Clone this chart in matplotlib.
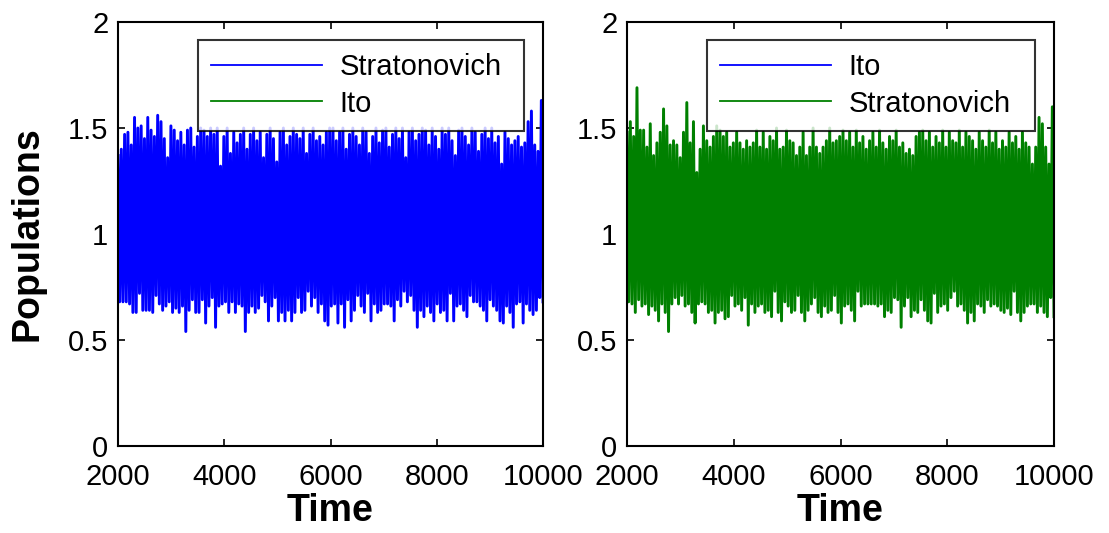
import numpy as np
import matplotlib
matplotlib.use("Agg")
from matplotlib import pyplot as plt

plt.rcParams['font.family'] = ['Liberation Sans', 'DejaVu Sans']
plt.rcParams['path.simplify'] = False

# time span of the runs
t_start, t_end = 2000, 10000

# left panel: Stratonovich run, peaks (top edge) and troughs (bottom edge)
strat_left_peaks = [
    1.37, 1.40, 1.47, 1.48, 1.42, 1.55, 1.50, 1.51, 1.45, 1.55, 1.49, 1.46, 1.56, 1.53, 1.45, 1.36,
    1.51, 1.49, 1.44, 1.48, 1.42, 1.49, 1.50, 1.41, 1.46, 1.50, 1.49, 1.46, 1.50, 1.47, 1.50, 1.32,
    1.46, 1.50, 1.38, 1.48, 1.43, 1.47, 1.50, 1.40, 1.47, 1.50, 1.44, 1.48, 1.36, 1.47, 1.50, 1.45,
    1.34, 1.48, 1.50, 1.42, 1.46, 1.50, 1.47, 1.45, 1.50, 1.38, 1.47, 1.50, 1.44, 1.46, 1.42, 1.48,
    1.50, 1.50, 1.44, 1.48, 1.50, 1.40, 1.47, 1.50, 1.46, 1.42, 1.50, 1.48, 1.38, 1.46, 1.50, 1.43,
    1.49, 1.50, 1.41, 1.47, 1.50, 1.45, 1.50, 1.36, 1.48, 1.50, 1.44, 1.47, 1.50, 1.49, 1.42, 1.50,
    1.46, 1.40, 1.50, 1.47, 1.50, 1.44, 1.37, 1.49, 1.50, 1.46, 1.42, 1.50, 1.48, 1.39, 1.47, 1.50,
    1.45, 1.50, 1.43, 1.46, 1.33, 1.48, 1.45, 1.42, 1.44, 1.46, 1.41, 1.43, 1.53, 1.58, 1.42, 1.39,
    1.63]
strat_left_troughs = [
    0.68, 0.68, 0.68, 0.67, 0.63, 0.63, 0.72, 0.64, 0.64, 0.64, 0.63, 0.71, 0.67, 0.64, 0.66, 0.68,
    0.63, 0.65, 0.63, 0.66, 0.54, 0.64, 0.69, 0.63, 0.63, 0.69, 0.58, 0.66, 0.70, 0.56, 0.66, 0.67,
    0.68, 0.63, 0.68, 0.63, 0.67, 0.66, 0.54, 0.63, 0.66, 0.63, 0.65, 0.71, 0.68, 0.59, 0.66, 0.70,
    0.59, 0.63, 0.59, 0.64, 0.59, 0.63, 0.70, 0.63, 0.64, 0.73, 0.66, 0.70, 0.63, 0.67, 0.59, 0.57,
    0.66, 0.67, 0.58, 0.67, 0.56, 0.69, 0.59, 0.64, 0.71, 0.66, 0.63, 0.72, 0.59, 0.67, 0.63, 0.64,
    0.67, 0.67, 0.66, 0.59, 0.69, 0.66, 0.73, 0.68, 0.71, 0.64, 0.56, 0.64, 0.61, 0.66, 0.63, 0.59,
    0.67, 0.63, 0.64, 0.59, 0.72, 0.59, 0.66, 0.67, 0.64, 0.61, 0.71, 0.68, 0.68, 0.66, 0.64, 0.59,
    0.69, 0.66, 0.64, 0.59, 0.58, 0.66, 0.63, 0.56, 0.67, 0.68, 0.58, 0.67, 0.64, 0.62, 0.64, 0.70,
    0.68]

# right panel: Stratonovich run
strat_right_peaks = [
    1.48, 1.53, 1.46, 1.69, 1.49, 1.49, 1.41, 1.52, 1.37, 1.43, 1.48, 1.59, 1.51, 1.42, 1.44, 1.42,
    1.36, 1.48, 1.62, 1.43, 1.53, 1.29, 1.40, 1.51, 1.44, 1.41, 1.46, 1.51, 1.49, 1.46, 1.48, 1.41,
    1.43, 1.48, 1.43, 1.40, 1.44, 1.41, 1.43, 1.49, 1.41, 1.48, 1.40, 1.46, 1.44, 1.50, 1.40, 1.41,
    1.49, 1.44, 1.43, 1.37, 1.41, 1.48, 1.37, 1.41, 1.50, 1.41, 1.38, 1.41, 1.44, 1.50, 1.43, 1.44,
    1.46, 1.49, 1.44, 1.48, 1.41, 1.49, 1.43, 1.46, 1.40, 1.44, 1.48, 1.41, 1.49, 1.43, 1.40, 1.46,
    1.44, 1.49, 1.41, 1.43, 1.38, 1.40, 1.37, 1.46, 1.48, 1.49, 1.44, 1.48, 1.41, 1.46, 1.43, 1.49,
    1.41, 1.48, 1.44, 1.43, 1.49, 1.41, 1.48, 1.46, 1.44, 1.40, 1.48, 1.44, 1.41, 1.49, 1.43, 1.48,
    1.40, 1.44, 1.41, 1.48, 1.43, 1.46, 1.40, 1.48, 1.43, 1.41, 1.33, 1.41, 1.55, 1.52, 1.41, 1.33,
    1.60]
strat_right_troughs = [
    0.68, 0.67, 0.63, 0.69, 0.66, 0.67, 0.62, 0.66, 0.64, 0.59, 0.67, 0.63, 0.54, 0.67, 0.70, 0.67,
    0.71, 0.66, 0.67, 0.63, 0.58, 0.67, 0.68, 0.67, 0.63, 0.64, 0.58, 0.63, 0.64, 0.60, 0.61, 0.71,
    0.66, 0.67, 0.64, 0.70, 0.57, 0.67, 0.63, 0.66, 0.67, 0.63, 0.64, 0.61, 0.73, 0.63, 0.59, 0.68,
    0.66, 0.63, 0.64, 0.71, 0.63, 0.59, 0.64, 0.67, 0.70, 0.63, 0.61, 0.66, 0.63, 0.64, 0.71, 0.63,
    0.58, 0.66, 0.67, 0.64, 0.59, 0.73, 0.66, 0.67, 0.67, 0.67, 0.67, 0.66, 0.67, 0.61, 0.64, 0.63,
    0.70, 0.69, 0.56, 0.66, 0.70, 0.61, 0.64, 0.63, 0.69, 0.64, 0.59, 0.58, 0.72, 0.63, 0.66, 0.67,
    0.64, 0.70, 0.73, 0.66, 0.67, 0.64, 0.58, 0.63, 0.59, 0.67, 0.66, 0.63, 0.69, 0.66, 0.67, 0.66,
    0.64, 0.63, 0.65, 0.62, 0.73, 0.63, 0.59, 0.63, 0.66, 0.67, 0.67, 0.63, 0.66, 0.63, 0.61, 0.70,
    0.61]

# Ito run sits flat at zero in both panels
ito_times = [2000, 10000]
ito_values = [0.0, 0.0]

xticks = [2000, 4000, 6000, 8000, 10000]
yticks = [0, 0.5, 1, 1.5, 2]
yticklabels = ["0", "0.5", "1", "1.5", "2"]

blue = (0, 0, 1)
green = (0, 0.5, 0)


def zigzag(peaks, troughs):
    # walk the line peak -> trough -> peak ... in time order
    n = min(len(peaks), len(troughs))
    step = (t_end - t_start) / (n - 0.5)
    t = np.empty(2 * n)
    v = np.empty(2 * n)
    t[0::2] = t_start + np.arange(n) * step
    t[1::2] = t_start + (np.arange(n) + 0.5) * step
    v[0::2] = peaks[:n]
    v[1::2] = troughs[:n]
    return t, v


fig = plt.figure(figsize=(11.09, 5.33), dpi=100)
ax1 = fig.add_axes([118 / 1109, 87 / 533, 425 / 1109, 424 / 533])
ax2 = fig.add_axes([627 / 1109, 87 / 533, 427 / 1109, 424 / 533])

t, v = zigzag(strat_left_peaks, strat_left_troughs)
ax1.plot(t, v, color=blue, lw=2.1, label="Stratonovich")
ax1.plot(ito_times, ito_values, color=green, lw=1.3, label="Ito")

ax2.plot(ito_times, ito_values, color=blue, lw=1.3, label="Ito")
t, v = zigzag(strat_right_peaks, strat_right_troughs)
ax2.plot(t, v, color=green, lw=2.1, label="Stratonovich")

for ax in (ax1, ax2):
    ax.set_xlim(t_start, t_end)
    ax.set_ylim(0, 2)
    ax.set_xticks(xticks)
    ax.set_yticks(yticks)
    ax.set_yticklabels(yticklabels)
    ax.tick_params(direction="in", top=True, right=True, length=5, width=1.2,
                   labelsize=21)
    ax.tick_params(axis="x", pad=12)
    ax.tick_params(axis="y", pad=7)
    for s in ax.spines.values():
        s.set_linewidth(1.5)
    ax.set_xlabel("Time", fontsize=27, fontweight="bold", labelpad=2)
    leg = ax.legend(loc="upper left", bbox_to_anchor=(0.188, 0.75, 0.767, 0.208),
                    mode="expand", fontsize=21, frameon=True, fancybox=False,
                    handlelength=3.8, labelspacing=0.3, borderpad=0.45,
                    handletextpad=0.6, borderaxespad=0)
    leg.get_frame().set_edgecolor("black")
    leg.get_frame().set_linewidth(1.5)
    for line in leg.get_lines():
        line.set_linewidth(1.3)

ax1.set_ylabel("Populations", fontsize=27, fontweight="bold", labelpad=16)

fig.savefig("out.png", dpi=100)
